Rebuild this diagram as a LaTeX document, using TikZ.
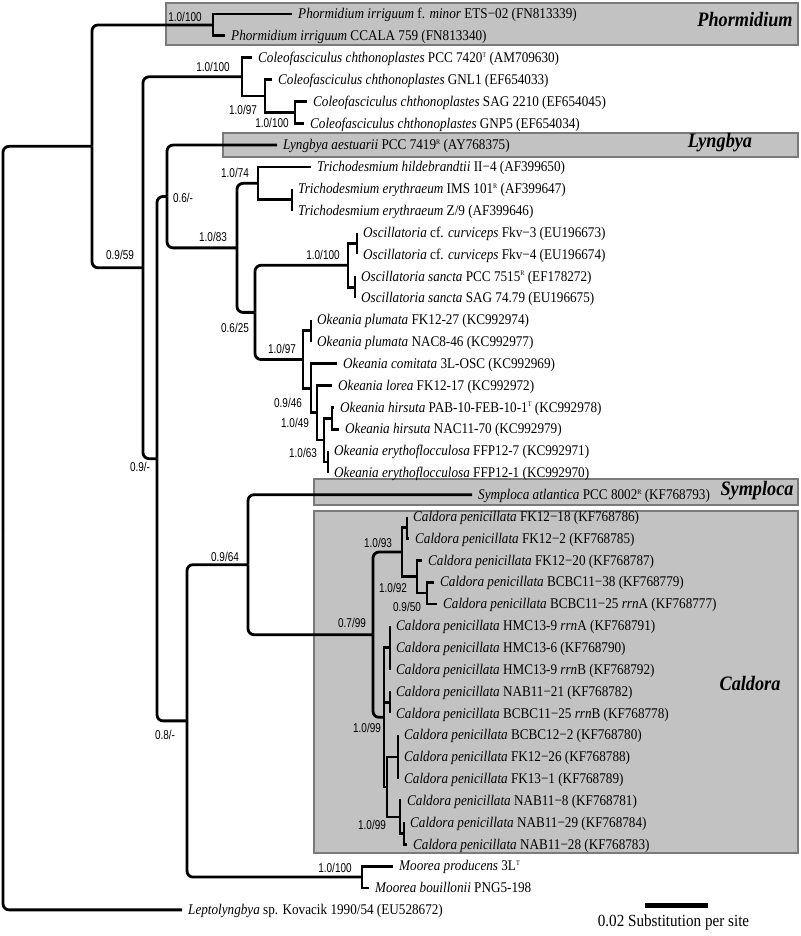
\documentclass[tikz,border=0pt]{standalone}
\usepackage{fontspec}
\setmainfont{Liberation Serif}
\newfontfamily\leaffont[FakeStretch=0.89]{Liberation Serif}
\newfontfamily\suppfont[FakeStretch=0.78]{Liberation Sans}
\newcommand\supr[1]{\raisebox{5.4pt}{\fontsize{7}{7}\selectfont #1}}
\newcommand\leafnode[4]{\coordinate (#1) at (#2,#3);\node[leaf] (#1t) at ([xshift=6pt]#1) {#4};}
\begin{document}
\begin{tikzpicture}[x=1pt,y=-1pt,
  leaf/.style={anchor=west,inner sep=0pt,font=\leaffont\fontsize{14.8}{15}\selectfont,text height=9.6pt,text depth=0pt},
  supp/.style={inner sep=0pt,font=\suppfont\fontsize{12.8}{13}\selectfont},
  grp/.style={inner sep=0pt,font=\leaffont\fontsize{20.5}{22}\selectfont\bfseries\itshape},
  cladebox/.style={fill=black!24,draw=black!52,line width=1.6pt},
  branch/.style={line width=2.8pt},
  rbranch/.style={line width=2.8pt,rounded corners=6pt}]
\useasboundingbox (0,0) rectangle (800,936);
% clade boxes
\node[cladebox,minimum width=632pt,minimum height=42pt,anchor=north west] (boxP) at (165,2) {};
\node[cladebox,minimum width=575pt,minimum height=24pt,anchor=north west] (boxL) at (222,132) {};
\node[cladebox,minimum width=484pt,minimum height=26pt,anchor=north west] (boxS) at (313,478) {};
\node[cladebox,minimum width=484pt,minimum height=342pt,anchor=north west] (boxC) at (313,510) {};
\node[grp] (gP) at (745,20) {Phormidium};
\node[grp] (gL) at (720,143) {Lyngbya};
\node[grp] (gS) at (757,491) {Symploca};
\node[grp] (gC) at (750,683) {Caldora};
% internal nodes
\coordinate (R) at (3,528.1);
\coordinate (A) at (92,146.34);
\coordinate (P) at (213,24.93);
\coordinate (B) at (143,267.75);
\coordinate (C) at (242,76.82);
\coordinate (C2) at (265,95.94);
\coordinate (C3) at (295,112.33);
\coordinate (D) at (157,458.68);
\coordinate (E) at (167,196.48);
\coordinate (G) at (237,247.87);
\coordinate (H) at (258,183.34);
\coordinate (Ht) at (292,199.73);
\coordinate (I) at (255,312.39);
\coordinate (J) at (348,265.28);
\coordinate (J1) at (357,243.43);
\coordinate (J2) at (355,287.13);
\coordinate (K) at (303,359.5);
\coordinate (K1) at (311,330.83);
\coordinate (K2) at (311,388.18);
\coordinate (K3) at (317,412.76);
\coordinate (K4) at (324,440.08);
\coordinate (K5) at (332,418.23);
\coordinate (K6) at (328,461.93);
\coordinate (F) at (187,720.88);
\coordinate (L) at (248,564.69);
\coordinate (Cal) at (373,634.68);
\coordinate (Ca) at (402,552.06);
\coordinate (Ca1) at (407,527.48);
\coordinate (Ca2) at (417,576.64);
\coordinate (Ca3) at (427,593.03);
\coordinate (Cb) at (384,717.3);
\coordinate (Q1) at (390,647.65);
\coordinate (Q2) at (390,702.28);
\coordinate (Cb2) at (387,786.95);
\coordinate (T1) at (398,756.9);
\coordinate (T2) at (400,816.99);
\coordinate (T3) at (404,833.38);
\coordinate (M) at (362,877.08);
% leaves
\leafnode{l0}{292}{14.0}{\textit{Phormidium irriguum} f. \textit{minor} ETS−02 (FN813339)}
\leafnode{l1}{225}{35.85}{\textit{Phormidium irriguum} CCALA 759 (FN813340)}
\leafnode{l2}{252}{57.7}{\textit{Coleofasciculus chthonoplastes} PCC 7420\supr{T} (AM709630)}
\leafnode{l3}{272}{79.55}{\textit{Coleofasciculus chthonoplastes} GNL1 (EF654033)}
\leafnode{l4}{307}{101.4}{\textit{Coleofasciculus chthonoplastes} SAG 2210 (EF654045)}
\leafnode{l5}{304}{123.25}{\textit{Coleofasciculus chthonoplastes} GNP5 (EF654034)}
\leafnode{l6}{277}{145.1}{\textit{Lyngbya aestuarii} PCC 7419\supr{R} (AY768375)}
\leafnode{l7}{311}{166.95}{\textit{Trichodesmium hildebrandtii} II−4 (AF399650)}
\leafnode{l8}{292}{188.8}{\textit{Trichodesmium erythraeum} IMS 101\supr{R} (AF399647)}
\leafnode{l9}{292}{210.65}{\textit{Trichodesmium erythraeum} Z/9 (AF399646)}
\leafnode{l10}{357}{232.5}{\textit{Oscillatoria} cf. \textit{curviceps} Fkv−3 (EU196673)}
\leafnode{l11}{357}{254.35}{\textit{Oscillatoria} cf. \textit{curviceps} Fkv−4 (EU196674)}
\leafnode{l12}{355}{276.2}{\textit{Oscillatoria sancta} PCC 7515\supr{R} (EF178272)}
\leafnode{l13}{355}{298.05}{\textit{Oscillatoria sancta} SAG 74.79 (EU196675)}
\leafnode{l14}{311}{319.9}{\textit{Okeania plumata} FK12-27 (KC992974)}
\leafnode{l15}{311}{341.75}{\textit{Okeania plumata} NAC8-46 (KC992977)}
\leafnode{l16}{337}{363.6}{\textit{Okeania comitata} 3L-OSC (KC992969)}
\leafnode{l17}{332}{385.45}{\textit{Okeania lorea} FK12-17 (KC992972)}
\leafnode{l18}{334}{407.3}{\textit{Okeania hirsuta} PAB-10-FEB-10-1\supr{T} (KC992978)}
\leafnode{l19}{339}{429.15}{\textit{Okeania hirsuta} NAC11-70 (KC992979)}
\leafnode{l20}{328}{451.0}{\textit{Okeania erythoflocculosa} FFP12-7 (KC992971)}
\leafnode{l21}{328}{472.85}{\textit{Okeania erythoflocculosa} FFP12-1 (KC992970)}
\leafnode{l22}{472}{494.7}{\textit{Symploca atlantica} PCC 8002\supr{R} (KF768793)}
\leafnode{l23}{407}{516.55}{\textit{Caldora penicillata} FK12−18 (KF768786)}
\leafnode{l24}{409}{538.4}{\textit{Caldora penicillata} FK12−2 (KF768785)}
\leafnode{l25}{422}{560.25}{\textit{Caldora penicillata} FK12−20 (KF768787)}
\leafnode{l26}{434}{582.1}{\textit{Caldora penicillata} BCBC11−38 (KF768779)}
\leafnode{l27}{437}{603.95}{\textit{Caldora penicillata} BCBC11−25 \textit{rrn}A (KF768777)}
\leafnode{l28}{390}{625.8}{\textit{Caldora penicillata} HMC13-9 \textit{rrn}A (KF768791)}
\leafnode{l29}{390}{647.65}{\textit{Caldora penicillata} HMC13-6 (KF768790)}
\leafnode{l30}{390}{669.5}{\textit{Caldora penicillata} HMC13-9 \textit{rrn}B (KF768792)}
\leafnode{l31}{390}{691.35}{\textit{Caldora penicillata} NAB11−21 (KF768782)}
\leafnode{l32}{390}{713.2}{\textit{Caldora penicillata} BCBC11−25 \textit{rrn}B (KF768778)}
\leafnode{l33}{398}{735.05}{\textit{Caldora penicillata} BCBC12−2 (KF768780)}
\leafnode{l34}{398}{756.9}{\textit{Caldora penicillata} FK12−26 (KF768788)}
\leafnode{l35}{398}{778.75}{\textit{Caldora penicillata} FK13−1 (KF768789)}
\leafnode{l36}{401}{800.6}{\textit{Caldora penicillata} NAB11−8 (KF768781)}
\leafnode{l37}{404}{822.45}{\textit{Caldora penicillata} NAB11−29 (KF768784)}
\leafnode{l38}{407}{844.3}{\textit{Caldora penicillata} NAB11−28 (KF768783)}
\leafnode{l39}{393}{866.15}{\textit{Moorea producens} 3L\supr{T}}
\leafnode{l40}{369}{888.0}{\textit{Moorea bouillonii} PNG5-198}
\leafnode{l41}{182}{909.85}{\textit{Leptolyngbya} sp. Kovacik 1990/54 (EU528672)}
% branches
\foreach \p/\c in {R/A,R/l41,A/P,A/B,B/C,B/D,D/E,D/F,E/l6,E/G,G/H,G/I,I/J,I/K,F/L,F/M,L/l22,L/Cal,Cal/Ca,Cal/Cb}
  \draw[rbranch] (\p) |- (\c);
\foreach \p/\c in {P/l0,P/l1,C/l2,C/C2,C2/l3,C2/C3,C3/l4,C3/l5,H/l7,H/Ht,Ht/l8,Ht/l9,J/J1,J/J2,J1/l10,J1/l11,J2/l12,J2/l13,K/K1,K/K2,K1/l14,K1/l15,K2/l16,K2/K3,K3/l17,K3/K4,K4/K5,K4/K6,K5/l18,K5/l19,K6/l20,K6/l21,Ca/Ca1,Ca/Ca2,Ca1/l23,Ca1/l24,Ca2/l25,Ca2/Ca3,Ca3/l26,Ca3/l27,Cb/Q1,Cb/Q2,Cb/Cb2,Q1/l28,Q1/l29,Q1/l30,Q2/l31,Q2/l32,Cb2/T1,Cb2/T2,T1/l33,T1/l34,T1/l35,T2/l36,T2/T3,T3/l37,T3/l38,M/l39,M/l40}
  \draw[branch] (\p) |- (\c);
% support values
\node[supp] (sP) at (185,17) {1.0/100};
\node[supp] (sC) at (213,67) {1.0/100};
\node[supp] (sC2) at (243,110) {1.0/97};
\node[supp] (sC3) at (272,123) {1.0/100};
\node[supp] (sE) at (183,198) {0.6/-};
\node[supp] (sH) at (235,173) {1.0/74};
\node[supp] (sG) at (213,237) {1.0/83};
\node[supp] (sB) at (120,255) {0.9/59};
\node[supp] (sJ) at (323,255) {1.0/100};
\node[supp] (sI) at (235,328) {0.6/25};
\node[supp] (sK) at (282,349) {1.0/97};
\node[supp] (sK2) at (288,403) {0.9/46};
\node[supp] (sK3) at (295,423) {1.0/49};
\node[supp] (sK6) at (303,453) {1.0/63};
\node[supp] (sD) at (140,467) {0.9/-};
\node[supp] (sL) at (225,557) {0.9/64};
\node[supp] (sCa) at (378,543) {1.0/93};
\node[supp] (sCa2) at (393,588) {1.0/92};
\node[supp] (sCa3) at (407,607) {0.9/50};
\node[supp] (sCal) at (352,623) {0.7/99};
\node[supp] (sCb) at (367,728) {1.0/99};
\node[supp] (sT2) at (372,825) {1.0/99};
\node[supp] (sF) at (165,735) {0.8/-};
\node[supp] (sM) at (335,868) {1.0/100};
% scale bar
\coordinate (sb1) at (645,905);
\coordinate (sb2) at (708,905);
\draw[line width=5pt] (sb1) -- (sb2);
\node[inner sep=0pt,font=\leaffont\fontsize{17}{18}\selectfont] (sbt) at (673.5,922) {0.02 Substitution per site};
\end{tikzpicture}
\end{document}
